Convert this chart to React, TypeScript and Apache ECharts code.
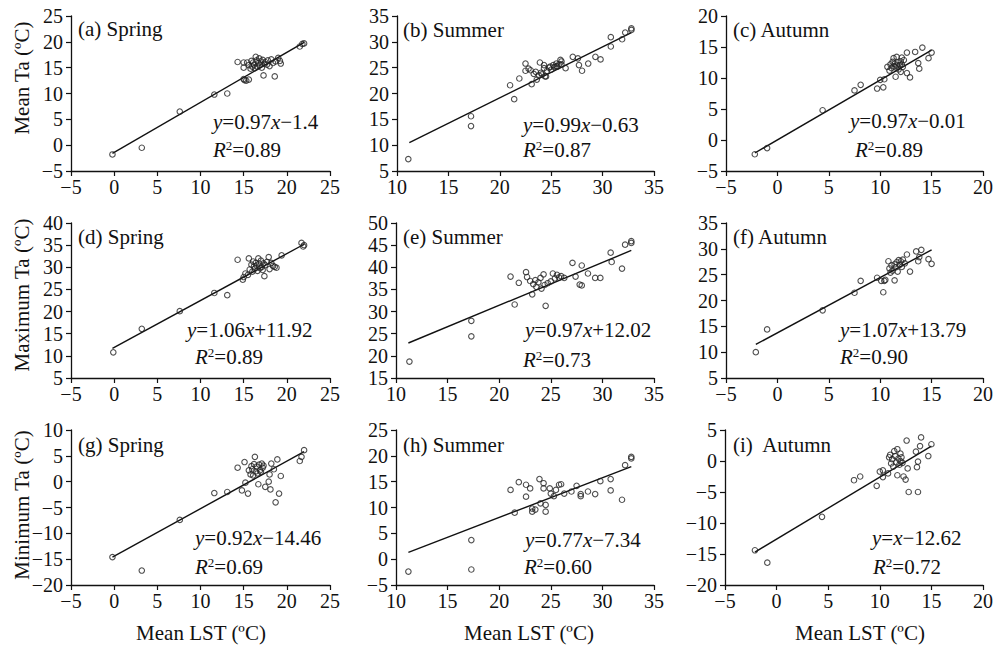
import React, { useEffect, useRef } from "react";
import * as echarts from "echarts";

type P = [number, number];

// ---- Data (x = Mean LST, y = air temperature) ----
const meanTaSpring: P[] = [
  [-0.2, -1.8], [3.2, -0.5], [7.6, 6.5], [11.6, 9.8], [13.1, 10.0], [14.3, 16.1],
  [15.0, 12.8], [15.1, 12.6], [15.3, 12.5], [15.6, 12.7], [15.0, 15.0], [15.0, 16.0],
  [15.4, 16.0], [15.6, 15.5], [15.8, 14.8], [15.9, 16.3], [16.0, 15.2], [16.1, 16.0],
  [16.2, 15.6], [16.3, 14.9], [16.4, 17.1], [16.5, 16.4], [16.6, 15.2], [16.7, 15.9],
  [16.8, 16.8], [16.9, 15.5], [17.0, 16.2], [17.1, 15.0], [17.2, 16.5], [17.3, 13.5],
  [17.4, 15.8], [17.5, 16.1], [17.7, 15.6], [17.8, 16.4], [18.0, 15.3], [18.2, 16.6],
  [18.4, 15.9], [18.6, 13.3], [18.7, 16.2], [19.0, 16.9], [19.2, 16.3], [19.3, 15.8],
  [21.5, 19.1], [21.8, 19.6], [22.0, 19.7]
];
const meanTaSummer: P[] = [
  [11.1, 7.3], [17.2, 15.6], [17.2, 13.7], [21.0, 21.6], [21.4, 18.9], [21.9, 22.9],
  [22.5, 25.8], [22.5, 24.4], [22.8, 24.8], [23.0, 24.5], [23.1, 21.8], [23.3, 23.8],
  [23.5, 24.2], [23.6, 22.7], [23.8, 23.5], [23.9, 26.0], [24.0, 24.0], [24.1, 23.7],
  [24.3, 25.5], [24.3, 24.9], [24.4, 23.3], [24.5, 23.3], [24.6, 24.4], [24.8, 25.0],
  [24.9, 25.2], [25.0, 24.6], [25.2, 25.5], [25.3, 25.1], [25.5, 25.8], [25.5, 25.3],
  [25.6, 25.2], [25.8, 25.7], [25.9, 26.5], [26.0, 25.6], [26.0, 26.2], [26.4, 24.9],
  [27.1, 27.1], [27.6, 26.8], [27.7, 25.5], [28.0, 24.4], [28.6, 25.8], [29.3, 27.1],
  [29.8, 26.6], [30.8, 29.1], [30.8, 30.9], [31.9, 30.5], [32.2, 31.8], [32.8, 32.6],
  [32.8, 32.3]
];
const meanTaAutumn: P[] = [
  [-2.2, -2.3], [-1.0, -1.3], [4.4, 4.8], [7.5, 8.0], [8.1, 8.9], [9.7, 8.3],
  [10.3, 8.5], [10.0, 9.7], [10.4, 9.8], [10.7, 11.8], [10.9, 11.2], [11.0, 12.2],
  [11.1, 11.6], [11.2, 12.6], [11.3, 13.2], [11.3, 11.9], [11.4, 12.3], [11.5, 10.2],
  [11.5, 11.7], [11.6, 13.4], [11.6, 12.0], [11.7, 12.5], [11.8, 11.4], [11.9, 12.1],
  [12.0, 11.0], [12.0, 12.7], [12.1, 13.3], [12.1, 12.2], [12.2, 11.8], [12.3, 12.9],
  [12.6, 14.1], [12.6, 10.8], [12.9, 10.1], [13.4, 14.2], [13.7, 12.4], [13.8, 11.5],
  [14.1, 14.9], [14.7, 13.2], [15.0, 14.1]
];
const maxTaSpring: P[] = [
  [-0.1, 10.8], [3.2, 16.1], [7.6, 20.1], [11.6, 24.2], [13.1, 23.7], [14.3, 31.7],
  [14.9, 27.2], [15.0, 27.8], [15.2, 28.6], [15.5, 28.3], [15.6, 32.0], [15.7, 29.5],
  [15.9, 30.6], [16.0, 29.0], [16.1, 31.3], [16.2, 30.2], [16.3, 29.7], [16.4, 31.0],
  [16.5, 30.4], [16.6, 29.2], [16.7, 32.0], [16.8, 30.8], [16.9, 29.8], [17.0, 31.5],
  [17.1, 30.1], [17.2, 29.4], [17.3, 30.9], [17.4, 28.0], [17.5, 30.5], [17.7, 31.2],
  [17.9, 32.3], [18.0, 29.6], [18.2, 31.0], [18.4, 30.3], [18.6, 30.1], [18.8, 29.9],
  [19.4, 32.7], [21.7, 35.5], [21.9, 34.7], [22.0, 35.0]
];
const maxTaSummer: P[] = [
  [11.3, 18.7], [17.3, 27.9], [17.3, 24.4], [21.1, 37.9], [21.5, 31.6], [21.9, 36.5],
  [22.6, 38.9], [22.7, 37.8], [23.0, 36.9], [23.2, 33.9], [23.3, 36.2], [23.5, 37.1],
  [23.6, 35.6], [23.8, 36.6], [24.0, 37.6], [24.1, 35.2], [24.3, 38.4], [24.4, 36.0],
  [24.5, 31.3], [24.7, 36.4], [25.0, 36.8], [25.2, 38.6], [25.4, 37.5], [25.6, 38.3],
  [25.8, 37.7], [26.0, 38.0], [26.3, 37.6], [27.1, 41.0], [27.4, 37.9], [27.8, 36.1],
  [28.0, 35.9], [28.0, 40.4], [28.6, 38.6], [29.3, 37.6], [29.8, 37.6], [30.8, 43.3],
  [30.9, 41.2], [31.9, 39.7], [32.2, 45.1], [32.8, 45.9], [32.8, 45.5]
];
const maxTaAutumn: P[] = [
  [-2.1, 10.0], [-1.0, 14.4], [4.4, 18.1], [7.5, 21.5], [8.1, 23.8], [9.7, 24.4],
  [10.1, 23.8], [10.3, 21.6], [10.4, 23.8], [10.5, 24.0], [10.8, 27.6], [10.9, 26.2],
  [11.0, 25.4], [11.1, 26.8], [11.2, 25.8], [11.4, 23.9], [11.4, 27.0], [11.5, 26.4],
  [11.6, 27.4], [11.7, 25.6], [11.8, 27.8], [11.9, 26.9], [12.0, 27.6], [12.1, 26.5],
  [12.2, 27.9], [12.4, 27.2], [12.6, 28.9], [12.9, 25.6], [13.5, 29.5], [13.7, 27.6],
  [13.8, 28.4], [14.0, 29.8], [14.7, 28.0], [15.0, 27.1]
];
const minTaSpring: P[] = [
  [-0.2, -14.6], [3.2, -17.2], [7.6, -7.4], [11.6, -2.2], [13.1, -2.0], [14.3, 2.7],
  [14.8, -1.7], [15.1, 3.8], [15.2, -0.2], [15.5, -2.3], [15.6, 2.2], [15.8, 1.4],
  [15.9, 3.0], [16.0, 2.4], [16.1, 1.2], [16.2, 3.4], [16.3, 4.8], [16.4, 2.0],
  [16.5, 2.9], [16.6, 1.6], [16.7, -0.5], [16.8, 3.3], [16.9, 2.2], [17.0, 1.9],
  [17.1, 3.5], [17.2, 2.7], [17.3, 3.1], [17.5, -1.0], [17.9, 0.0], [18.0, 1.4],
  [18.1, -1.5], [18.2, 3.5], [18.5, 2.4], [18.7, -4.0], [18.9, 4.3], [19.1, -2.3],
  [19.3, 1.1], [21.5, 4.0], [21.7, 4.8], [22.0, 6.1]
];
const minTaSummer: P[] = [
  [11.2, -2.4], [17.3, 3.7], [17.3, -2.0], [21.1, 13.4], [21.5, 9.0], [21.9, 14.9],
  [22.6, 14.4], [22.6, 12.1], [23.0, 13.7], [23.2, 9.8], [23.2, 9.2], [23.5, 9.6],
  [23.9, 15.5], [24.0, 10.8], [24.3, 14.7], [24.3, 13.7], [24.5, 10.5], [24.5, 9.2],
  [24.9, 13.7], [25.0, 12.7], [25.3, 12.2], [25.5, 13.4], [25.8, 14.4], [26.0, 14.5],
  [26.3, 12.7], [27.0, 13.1], [27.5, 14.2], [27.9, 12.2], [27.9, 12.6], [28.6, 13.1],
  [29.3, 12.6], [29.8, 15.1], [30.8, 15.5], [30.8, 13.3], [31.9, 11.5], [32.2, 18.2],
  [32.8, 19.8], [32.8, 19.5]
];
const minTaAutumn: P[] = [
  [-2.1, -14.4], [-0.9, -16.4], [4.4, -9.0], [7.5, -3.1], [8.1, -2.5], [9.7, -4.0],
  [10.0, -1.7], [10.3, -1.5], [10.3, -2.6], [10.8, -2.0], [10.9, 0.6], [11.0, 1.0],
  [11.1, -0.4], [11.2, 0.3], [11.3, -0.9], [11.4, 1.6], [11.5, 0.8], [11.6, -0.2],
  [11.7, 1.9], [11.7, -2.3], [11.8, 0.4], [11.9, -0.6], [12.0, 1.2], [12.0, 0.0],
  [12.1, 0.6], [12.2, -0.3], [12.3, -2.5], [12.5, -3.0], [12.6, 3.3], [12.7, -1.2],
  [12.8, -5.0], [13.5, 1.5], [13.6, -1.0], [13.7, -0.1], [13.7, -5.0], [13.9, 2.4],
  [14.0, 3.8], [14.7, 0.8], [15.0, 2.7]
];

// Fitted-line end points
const fitMeanSpring: P[] = [[-0.2, -1.6], [22.0, 19.9]];
const fitMeanSummer: P[] = [[11.2, 10.5], [32.8, 31.8]];
const fitMeanAutumn: P[] = [[-2.2, -2.1], [15.0, 14.5]];
const fitMaxSpring: P[] = [[-0.2, 11.7], [22.0, 35.2]];
const fitMaxSummer: P[] = [[11.2, 22.9], [32.8, 43.8]];
const fitMaxAutumn: P[] = [[-2.1, 11.5], [15.0, 29.8]];
const fitMinSpring: P[] = [[-0.2, -14.6], [22.0, 5.8]];
const fitMinSummer: P[] = [[11.2, 1.3], [32.8, 17.9]];
const fitMinAutumn: P[] = [[-2.1, -14.7], [15.0, 2.4]];

const panelTags = ["(a) Spring", "(b) Summer", "(c) Autumn", "(d) Spring", "(e) Summer", "(f) Autumn", "(g) Spring", "(h) Summer", "(i)  Autumn"];
const eqSlopes = ["0.97", "0.99", "0.97", "1.06", "0.97", "1.07", "0.92", "0.77", ""];
const eqIntercepts = ["−1.4", "−0.63", "−0.01", "+11.92", "+12.02", "+13.79", "−14.46", "−7.34", "−12.62"];
const r2Values = ["0.89", "0.87", "0.89", "0.89", "0.73", "0.90", "0.69", "0.60", "0.72"];
const xRanges: P[] = [[-5, 25], [10, 35], [-5, 20], [-5, 25], [10, 35], [-5, 20], [-5, 25], [10, 35], [-5, 20]];
const yRanges: P[] = [[-5, 25], [5, 35], [-5, 20], [5, 40], [15, 50], [5, 35], [-20, 10], [-5, 25], [-20, 5]];
const yAxisTitles = ["Mean Ta (ºC)", "Maximum Ta (ºC)", "Minimum Ta (ºC)"];
const xAxisTitle = "Mean LST (ºC)";

const pointSets = [meanTaSpring, meanTaSummer, meanTaAutumn, maxTaSpring, maxTaSummer, maxTaAutumn, minTaSpring, minTaSummer, minTaAutumn];
const fitSets = [fitMeanSpring, fitMeanSummer, fitMeanAutumn, fitMaxSpring, fitMaxSummer, fitMaxAutumn, fitMinSpring, fitMinSummer, fitMinAutumn];

// ---- Layout (pixels) ----
const gridBoxes = [
  { left: 71, top: 16, width: 259 }, { left: 397, top: 16, width: 257 }, { left: 726, top: 16, width: 257 },
  { left: 71, top: 223, width: 259 }, { left: 396, top: 223, width: 258 }, { left: 726, top: 223, width: 257 },
  { left: 71, top: 430, width: 259 }, { left: 396, top: 430, width: 258 }, { left: 725, top: 430, width: 258 },
];
const gridHeight = 155;
const tagPos = [[78, 29], [403, 30], [733, 30], [78, 237], [403, 237], [733, 237], [78, 445], [403, 445], [733, 445]];
const eqPos = [[213, 122], [523, 125], [850, 121], [187, 330], [525, 330], [840, 330], [195, 538], [525, 540], [872, 538]];
const r2Pos = [[213, 150], [523, 150], [855, 150], [195, 357], [523, 360], [840, 357], [195, 567], [524, 567], [873, 567]];
const yTitlePos = [[22, 78], [22, 295], [22, 505]];
const xTitlePos = [[201, 633], [529, 633], [860, 633]];

const FONT = "'Liberation Serif', 'Times New Roman', serif";
const INK = "#111";

export default function App() {
  const ref = useRef<HTMLDivElement>(null);
  useEffect(() => {
    if (!ref.current) return;
    const chart = echarts.init(ref.current, undefined, { renderer: "svg" });
    const fmt = (v: number) => String(v).replace("-", "−");
    const axisCommon = {
      type: "value" as const,
      splitLine: { show: false },
      axisLine: { show: true, onZero: false, lineStyle: { color: INK, width: 1.3 } },
      axisTick: { show: true, inside: false, length: 5, lineStyle: { color: INK, width: 1.2 } },
      axisLabel: { color: INK, fontFamily: FONT, fontSize: 20, formatter: fmt, showMinLabel: true, showMaxLabel: true },
    };
    const grids = gridBoxes.map((g) => ({ left: g.left, top: g.top, width: g.width, height: gridHeight, containLabel: false }));
    const xAxes = xRanges.map((r, i) => ({
      ...axisCommon, gridIndex: i, min: r[0], max: r[1], interval: 5,
      axisLabel: { ...axisCommon.axisLabel, margin: 6 },
    }));
    const yAxes = yRanges.map((r, i) => ({
      ...axisCommon, gridIndex: i, min: r[0], max: r[1], interval: 5,
      axisLabel: { ...axisCommon.axisLabel, margin: 8 },
    }));
    const series: any[] = [];
    pointSets.forEach((pts, i) => {
      series.push({
        type: "scatter", xAxisIndex: i, yAxisIndex: i, data: pts, symbol: "circle", symbolSize: 5.5,
        itemStyle: { color: "rgba(255,255,255,0)", borderColor: "#222", borderWidth: 1.1 },
        z: 3,
      });
      series.push({
        type: "line", xAxisIndex: i, yAxisIndex: i, data: fitSets[i], symbol: "none",
        lineStyle: { color: INK, width: 1.4 }, z: 2,
      });
    });
    const rich = {
      n: { fontFamily: FONT, fontSize: 21, color: INK, lineHeight: 22 },
      i: { fontFamily: FONT, fontSize: 21, color: INK, fontStyle: "italic", lineHeight: 22 },
      s: { fontFamily: FONT, fontSize: 13, color: INK, verticalAlign: "top", lineHeight: 22 },
    };
    const graphics: any[] = [];
    panelTags.forEach((t, i) => {
      graphics.push({ type: "text", x: tagPos[i][0], y: tagPos[i][1],
        style: { text: t, fontFamily: FONT, fontSize: 21, fill: INK, verticalAlign: "middle" } });
      const eq = eqSlopes[i] === ""
        ? `{i|y}{n|=}{i|x}{n|${eqIntercepts[i]}}`
        : `{i|y}{n|=${eqSlopes[i]}}{i|x}{n|${eqIntercepts[i]}}`;
      graphics.push({ type: "text", x: eqPos[i][0], y: eqPos[i][1],
        style: { text: eq, rich, fontFamily: FONT, fontSize: 21, fill: INK, verticalAlign: "middle" } });
      graphics.push({ type: "text", x: r2Pos[i][0], y: r2Pos[i][1],
        style: { text: `{i|R}{s|2}{n|=${r2Values[i]}}`, rich, fontFamily: FONT, fontSize: 21, fill: INK, verticalAlign: "middle" } });
    });
    yAxisTitles.forEach((t, i) => {
      graphics.push({ type: "text", x: yTitlePos[i][0], y: yTitlePos[i][1], rotation: Math.PI / 2,
        style: { text: t, fontFamily: FONT, fontSize: 21, fill: INK, align: "center", verticalAlign: "middle" } });
    });
    xTitlePos.forEach((p) => {
      graphics.push({ type: "text", x: p[0], y: p[1],
        style: { text: xAxisTitle, fontFamily: FONT, fontSize: 21, fill: INK, align: "center", verticalAlign: "middle" } });
    });
    chart.setOption({
      animation: false,
      backgroundColor: "#fff",
      grid: grids,
      xAxis: xAxes,
      yAxis: yAxes,
      series,
      graphic: graphics,
    });
    return () => chart.dispose();
  }, []);
  return <div ref={ref} style={{ position: "fixed", left: 0, top: 0, width: 1002, height: 648 }} />;
}
